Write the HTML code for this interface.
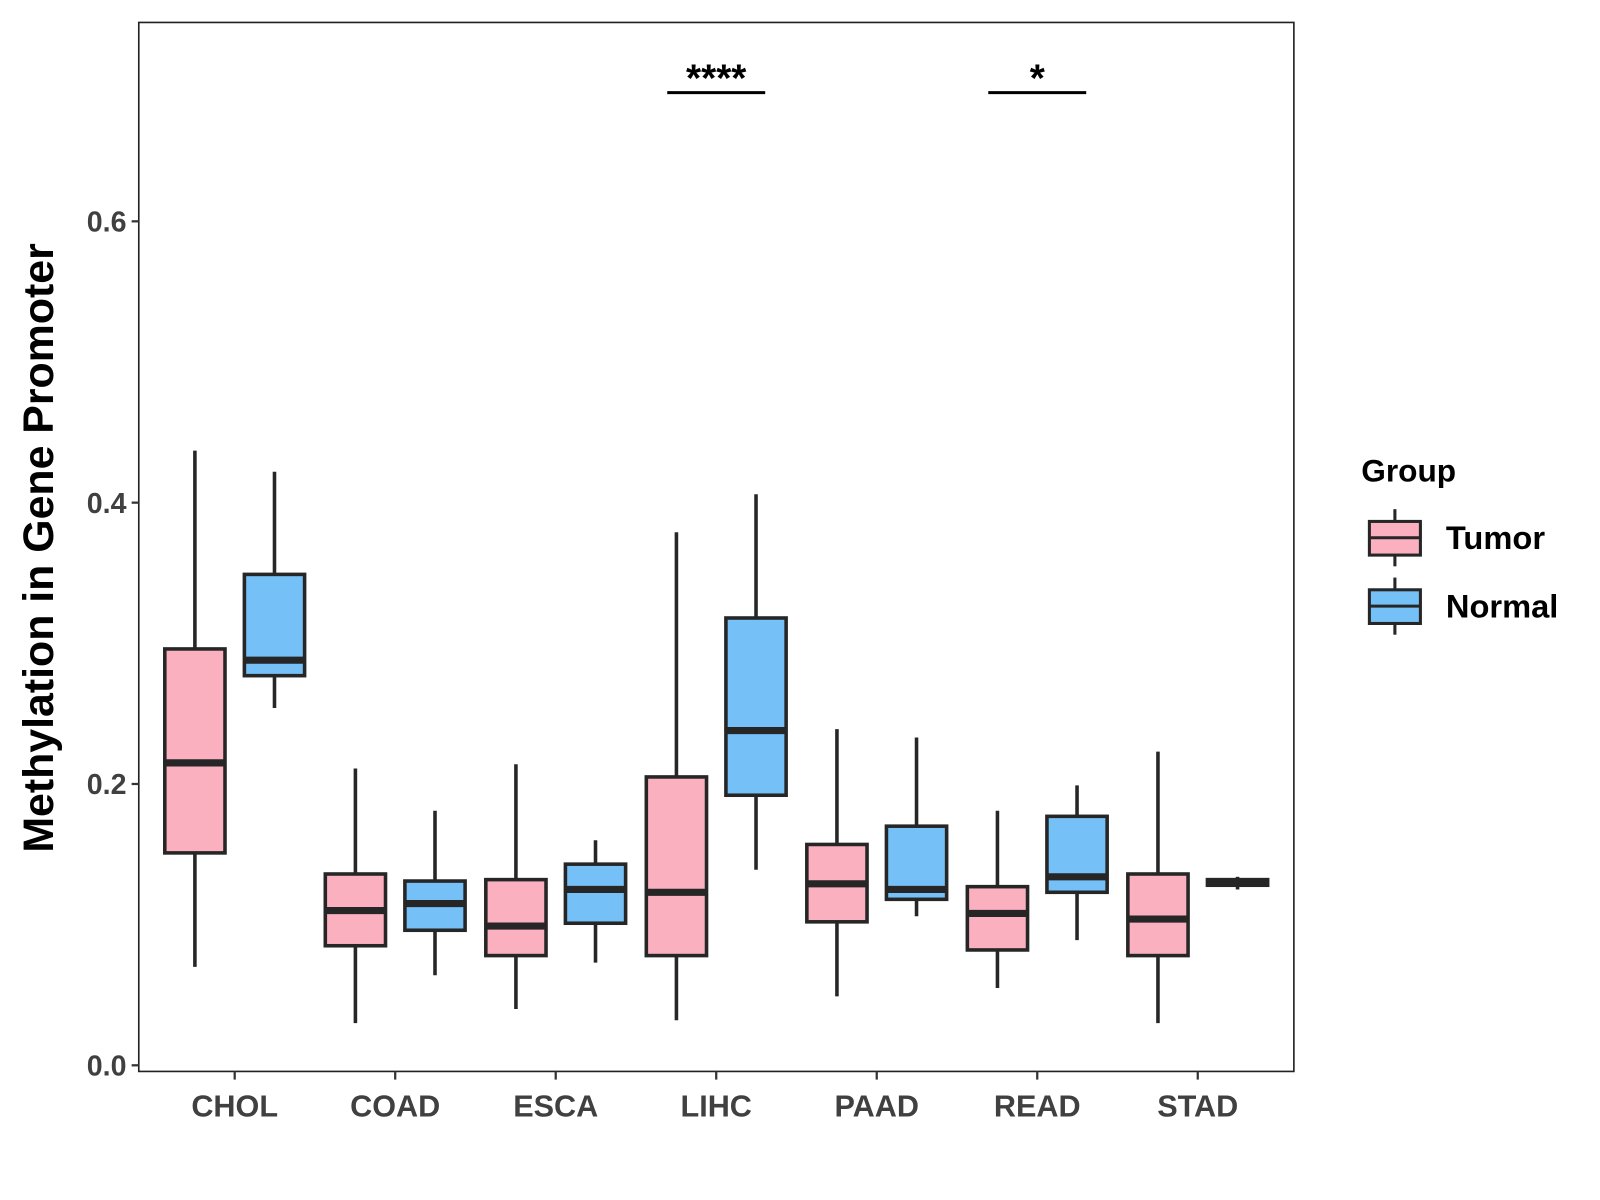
<!DOCTYPE html>
<html><head><meta charset="utf-8"><style>body{margin:0;background:#fff}svg{display:block}text{font-family:"Liberation Sans",Arial,sans-serif;font-weight:bold}</style></head>
<body>
<svg width="1600" height="1200" viewBox="0 0 1568 1176" xmlns="http://www.w3.org/2000/svg">
<rect x="0" y="0" width="1568" height="1176" fill="#fff"/>
<g id="plot"></g>
</svg>
<script>
const categories=["CHOL","COAD","ESCA","LIHC","PAAD","READ","STAD"];
const groups=["Tumor","Normal"];
// [min,q1,median,q3,max]
const tumorStats=[[.070,.151,.215,.296,.437],[.030,.085,.110,.136,.211],[.040,.078,.099,.132,.214],[.032,.078,.123,.205,.379],[.049,.102,.129,.157,.239],[.055,.082,.108,.127,.181],[.030,.078,.104,.136,.223]];
const normalStats=[[.254,.277,.288,.349,.422],[.064,.096,.115,.131,.181],[.073,.101,.125,.143,.160],[.139,.192,.238,.318,.406],[.106,.118,.125,.170,.233],[.089,.123,.134,.177,.199],[.125,.128,.130,.132,.134]];
const yTicks=[0,0.2,0.4,0.6];
const yTickLabels=["0.0","0.2","0.4","0.6"];
const sigCats=["LIHC","READ"];
const sigLabels=["****","*"];
const sigY=0.6915;

const NS="http://www.w3.org/2000/svg";
const g=document.getElementById('plot');
const L=136,T=22,R=1268,B=1050;
const y=v=>1044-v*1378.5;
const x=i=>230+i*157.3;
const off=39,bw=59;
const fills=["#FBB0C0","#75C1F7"];
function mk(tag,attrs,parent){const e=document.createElementNS(NS,tag);for(const k in attrs)e.setAttribute(k,attrs[k]);(parent||g).appendChild(e);return e;}

const panel=mk('rect',{x:L,y:T,width:R-L,height:B-T,fill:'#fff',stroke:'#222','stroke-width':1.6});



yTicks.forEach((v,i)=>{
  const t=mk('line',{x1:L-7,x2:L,y1:y(v),y2:y(v),stroke:'#333','stroke-width':2.2});
  
  
  const tx=mk('text',{x:L-12,y:y(v)+10,'text-anchor':'end','font-size':28,fill:'#404040'});
  tx.textContent=yTickLabels[i];
  
  
});
categories.forEach((c,i)=>{
  const t=mk('line',{x1:x(i),x2:x(i),y1:B,y2:B+8,stroke:'#333','stroke-width':2.2});
  
  
  const tx=mk('text',{x:x(i),y:1094,'text-anchor':'middle','font-size':30,fill:'#404040'});
  tx.textContent=c;
  
  
});
const yt=mk('text',{x:0,y:0,transform:'translate(52,537) rotate(-90)','text-anchor':'middle','font-size':42,fill:'#000'});
yt.textContent='Methylation in Gene Promoter';



function box(cx,s,fill,name){
  const bg=mk('g',{});
  
  
  mk('line',{x1:cx,x2:cx,y1:y(s[4]),y2:y(s[0]),stroke:'#262626','stroke-width':3.5},bg);
  mk('rect',{x:cx-bw/2,y:y(s[3]),width:bw,height:Math.max(y(s[1])-y(s[3]),0.5),fill:fill,stroke:'#262626','stroke-width':3.5},bg);
  mk('line',{x1:cx-bw/2,x2:cx+bw/2,y1:y(s[2]),y2:y(s[2]),stroke:'#262626','stroke-width':7},bg);
}
categories.forEach((c,i)=>{
  box(x(i)-off,tumorStats[i],fills[0],'box-tumor-'+c.toLowerCase());
  box(x(i)+off,normalStats[i],fills[1],'box-normal-'+c.toLowerCase());
});
sigCats.forEach((c,k)=>{
  const i=categories.indexOf(c);
  const l=mk('line',{x1:x(i)-48,x2:x(i)+48,y1:y(sigY),y2:y(sigY),stroke:'#000','stroke-width':3});
  
  
  const t=mk('text',{x:x(i),y:y(sigY)-1,'text-anchor':'middle','font-size':38,fill:'#000'});
  t.textContent=sigLabels[k];
  
  
});
const lt=mk('text',{x:1334,y:472,'font-size':31,fill:'#000'});
lt.textContent='Group';


groups.forEach((gname,k)=>{
  const cy=527+k*67;
  const lg=mk('g',{});
  
  
  mk('line',{x1:1367,x2:1367,y1:cy-28,y2:cy+28,stroke:'#262626','stroke-width':3},lg);
  mk('rect',{x:1342,y:cy-16,width:50,height:33,fill:fills[k],stroke:'#262626','stroke-width':3},lg);
  mk('line',{x1:1342,x2:1392,y1:cy,y2:cy,stroke:'#262626','stroke-width':3},lg);
  const t=mk('text',{x:1417,y:cy+11,'font-size':32,fill:'#000'},lg);
  t.textContent=gname;
});
</script>
</body></html>
